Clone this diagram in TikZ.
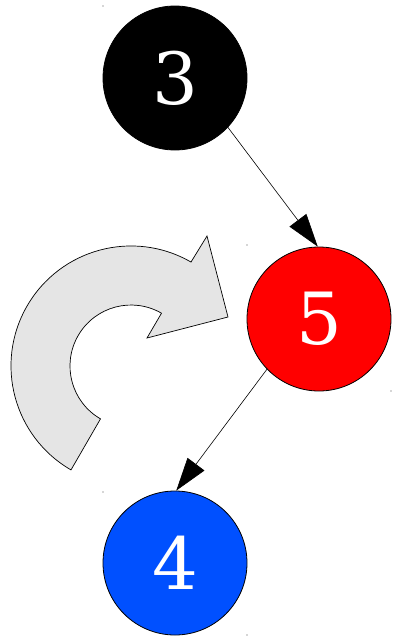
\documentclass[tikz,border=0pt]{standalone}
\usepackage{fontspec}
\newfontfamily\digitfont{DejaVu Serif}
\usetikzlibrary{arrows.meta}
\definecolor{nodeblue}{RGB}{0,80,255}
\definecolor{turngray}{RGB}{229,229,229}
\begin{document}
\begin{tikzpicture}[x=1pt,y=1pt,
  vnode/.style={circle,draw=black,line width=0.8pt,minimum size=144pt,inner sep=0pt,
    text=white,font=\digitfont\fontsize{72}{72}\selectfont},
  edge/.style={draw=black,line width=0.6pt,-{Triangle[length=33pt,width=21pt]}},
  speck/.style={circle,fill=black!70,inner sep=0pt,minimum size=1.4pt}]
\useasboundingbox (0,0) rectangle (393,-637);
% rotation arrow
\draw[fill=turngray,line width=0.7pt,line join=miter]
  (71,-469.9) arc[start angle=240,end angle=60,radius=120]
  -- (207,-236) -- (228,-317) -- (147,-338) -- (161.5,-313.2)
  arc[start angle=60,end angle=240,radius=61] -- cycle;
% nodes
\node[vnode,fill=black] (n3) at (175,-78) {3};
\node[vnode,fill=red] (n5) at (319,-319) {5};
\node[vnode,fill=nodeblue] (n4) at (175,-563) {4};
% edges
\draw[edge] (n3.-43) -- (n5.91);
\draw[edge] (n5.224) -- (n4.89);
% tiny specks
\node[speck] (s1) at (103,-6) {};
\node[speck] (s2) at (247,-245) {};
\node[speck] (s3) at (391,-391) {};
\node[speck] (s4) at (103,-492) {};
\node[speck] (s5) at (247,-635) {};
\end{tikzpicture}
\end{document}
